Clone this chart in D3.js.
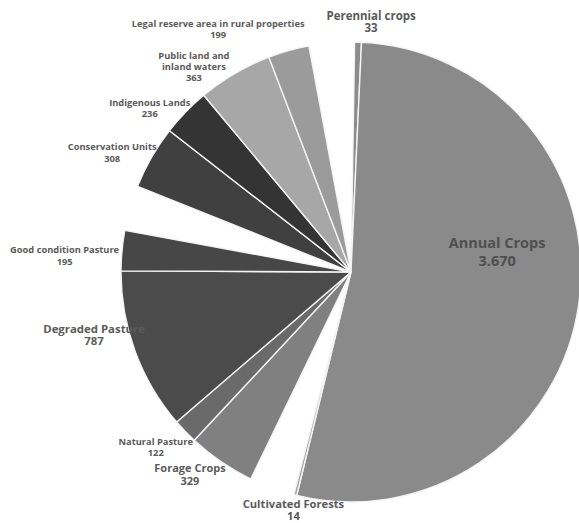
<!DOCTYPE html>
<html>
<head>
<meta charset="utf-8">
<script src="https://cdn.jsdelivr.net/npm/d3@7"></script>
<style>
  html, body { margin: 0; padding: 0; background: #fff; }
  svg { display: block; }
  text { font-family: "Open Sans", "DejaVu Sans", sans-serif; font-weight: 700; }
</style>
</head>
<body>
<svg id="chart" width="579" height="523"></svg>
<script>
// ---- data (clockwise from 12 o'clock) ----
const categories = [
  "Perennial crops", "Annual Crops", "Cultivated Forests",
  "Forage Crops", "Natural Pasture", "Degraded Pasture", "Good condition Pasture",
  "Conservation Units", "Indigenous Lands", "Public land and inland waters",
  "Legal reserve area in rural properties"
];
const values = [33, 3670, 14, 329, 122, 787, 195, 308, 236, 363, 199];
const valueLabels = ["33", "3.670", "14", "329", "122", "787", "195", "308", "236", "363", "199"];
const groups = [
  "Agriculture", "Agriculture", "Agriculture",
  "Pasture", "Pasture", "Pasture", "Pasture",
  "Protected", "Protected", "Protected", "Protected"
];

// ---- styling / layout (kept separate from data) ----
const colors = ["#8c8c8c", "#8a8a8a", "#a3a3a3", "#808080", "#6a6a6a", "#4b4b4b",
                "#474747", "#404040", "#343434", "#a7a7a7", "#9b9b9b"];
// label placement: radius from centre, angle offset (deg) from slice mid-angle,
// font size, line height, line breaks
const labelLayout = [
  { r: 253, dA: 2.8,   size: 11.5, lh: 12.5, lines: ["Perennial crops"] },
  { r: 148, dA: -17.3, size: 14.5, lh: 17.5, lines: ["Annual Crops"], color: "#4f4f4f" },
  { r: 243, dA: -0.3,  size: 11.2, lh: 11.8, lines: ["Cultivated  Forests"] },
  { r: 257, dA: 4.4,   size: 11,   lh: 12.5, lines: ["Forage Crops"] },
  { r: 261, dA: 2.3,   size: 9.3,  lh: 11.2, lines: ["Natural Pasture"] },
  { r: 264, dA: 6.9,   size: 11.4, lh: 12.5, lines: ["Degraded Pasture"] },
  { r: 287, dA: -1.6,  size: 9.3,  lh: 11.7, lines: ["Good condition Pasture"] },
  { r: 268, dA: -2.9,  size: 9.3,  lh: 11.5, lines: ["Conservation Units"] },
  { r: 261, dA: -4.5,  size: 9.3,  lh: 11.2, lines: ["Indigenous  Lands"] },
  { r: 265, dA: -6.0,  size: 9.3,  lh: 11.2, lines: ["Public land and", "inland waters"] },
  { r: 279, dA: -12.7, size: 9.3,  lh: 11,   lines: ["Legal reserve area in rural properties"] }
];

const W = 579, H = 523;
const cx = 351, cy = 272, R = 230;
const GAP = 220;               // blank wedge between groups
const start = 0.9 * Math.PI / 180;

// build pie items with blank separators between groups
const items = [];
values.forEach((v, i) => {
  if (i > 0 && groups[i] !== groups[i - 1]) items.push({ gap: true, value: GAP });
  items.push({ gap: false, value: v, i });
});
items.push({ gap: true, value: GAP });

const pie = d3.pie().sort(null).value(d => d.value)
  .startAngle(start).endAngle(start + 2 * Math.PI);
const arcs = pie(items);
const arc = d3.arc().innerRadius(0).outerRadius(R);

const svg = d3.select("#chart");
const g = svg.append("g").attr("transform", `translate(${cx},${cy})`);

g.selectAll("path.slice")
  .data(arcs.filter(a => !a.data.gap))
  .join("path")
  .attr("class", "slice")
  .attr("d", arc)
  .attr("fill", a => colors[a.data.i])
  .attr("stroke", "#f4f4f4")
  .attr("stroke-width", 1.4)
  .attr("stroke-linejoin", "round");

// labels
const lab = g.selectAll("text.lbl")
  .data(arcs.filter(a => !a.data.gap))
  .join("text")
  .attr("class", "lbl")
  .attr("text-anchor", "middle")
  .attr("fill", a => labelLayout[a.data.i].color || "#5a5a5a")
  .attr("font-size", a => labelLayout[a.data.i].size)
  .attr("transform", a => {
    const L = labelLayout[a.data.i];
    const m = (a.startAngle + a.endAngle) / 2 + L.dA * Math.PI / 180;
    return `translate(${L.r * Math.sin(m)},${-L.r * Math.cos(m)})`;
  });

lab.each(function(a) {
  const L = labelLayout[a.data.i];
  const t = d3.select(this);
  const lines = L.lines.concat([valueLabels[a.data.i]]);
  lines.forEach((s, k) => {
    t.append("tspan").attr("x", 0).attr("y", k * L.lh).text(s);
  });
});
</script>
</body>
</html>
